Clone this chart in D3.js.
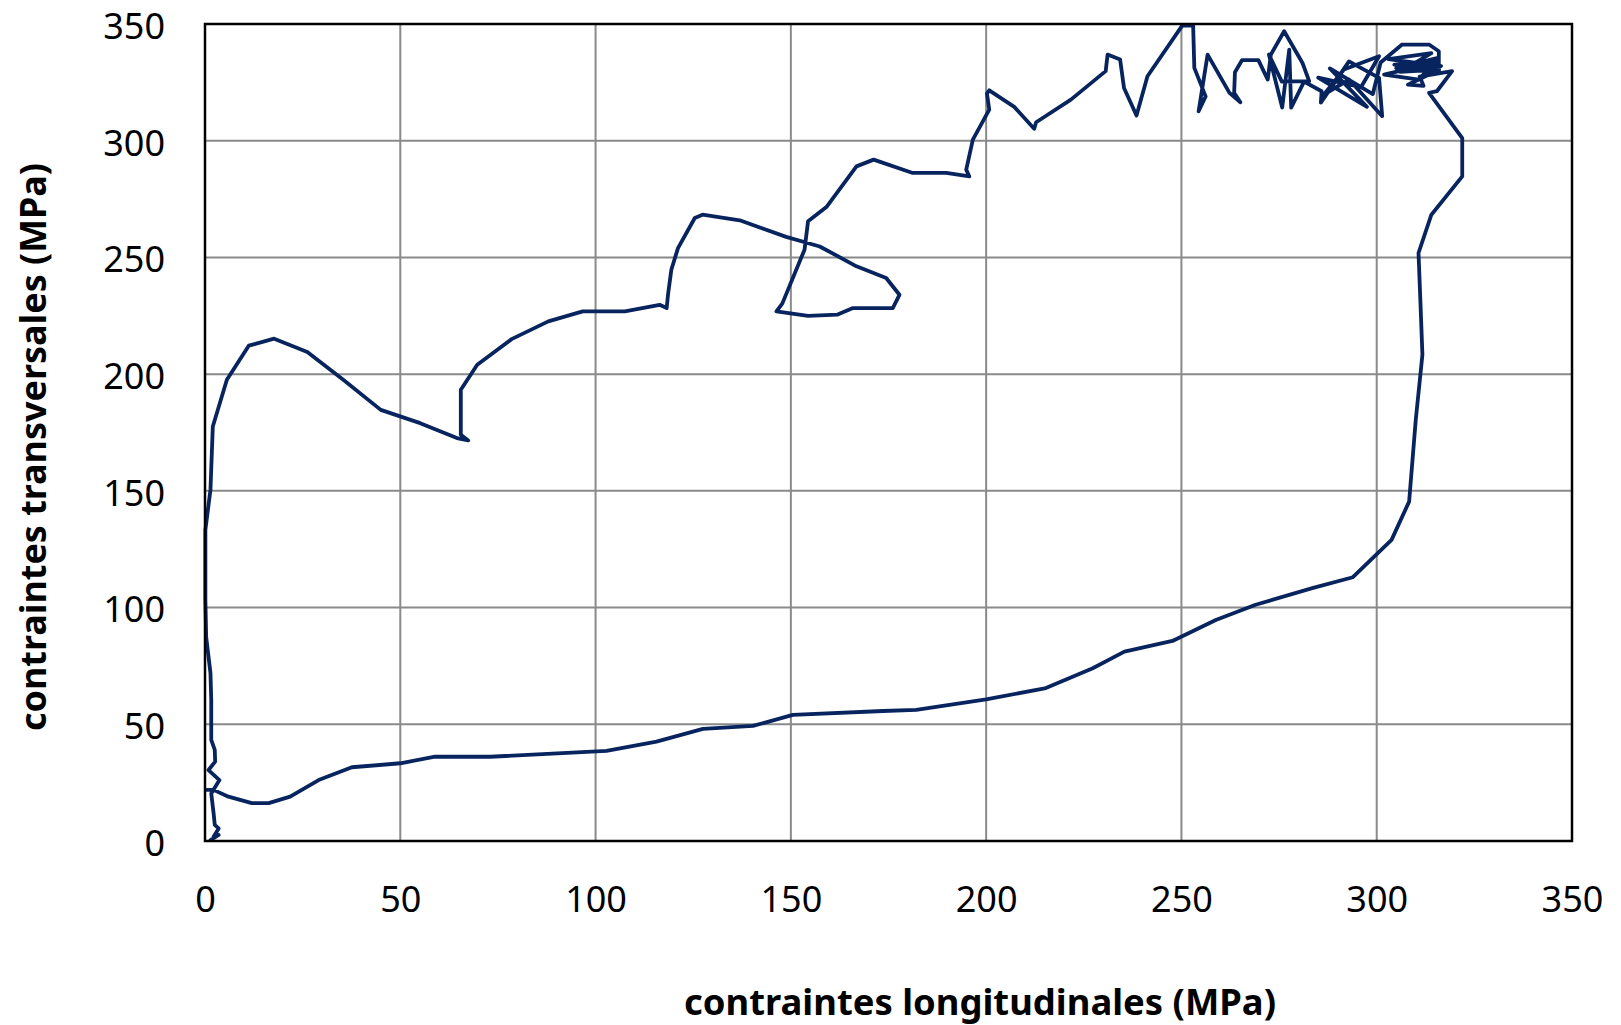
<!DOCTYPE html>
<html>
<head>
<meta charset="utf-8">
<script src="https://cdn.jsdelivr.net/npm/d3@7"></script>
<style>
html,body{margin:0;padding:0;background:#fff;}
svg{display:block;}
</style>
</head>
<body>
<svg id="chart" width="1621" height="1025"></svg>
<script>
// Tick values
const xTicks = [0, 50, 100, 150, 200, 250, 300, 350];
const yTicks = [0, 50, 100, 150, 200, 250, 300, 350];

// contraintes longitudinales (MPa)
const longitudinal = [
  1.4, 3.5, 2.2, 3.5, 2.5, 2.2, 1.6, 3.7, 0.9, 2.6, 2.5, 1.6, 1.6, 1.5, 1.4, 0.3, 0.1, 0.1, 1.4, 2.0,
  5.6, 11.2, 17.7, 26.2, 35.4, 45.0, 55.1, 64.5, 67.4, 65.5, 65.5, 69.7, 78.5, 87.9, 96.7, 107.5, 116.4, 118.2, 118.6, 119.4,
  121.1, 125.4, 127.4, 136.9, 148.8, 157.4, 166.8, 174.4, 177.8, 176.1, 165.9, 162.0, 154.4, 146.3, 147.8, 153.5, 154.4, 159.1, 166.8, 171.2,
  181.2, 189.8, 195.7, 194.9, 196.6, 200.8, 200.2, 200.8, 207.2, 212.3, 212.8, 221.7, 230.6, 231.1, 234.3, 235.3, 238.5, 241.3, 250.2, 253.0,
  253.3, 256.2, 254.4, 256.7, 262.3, 265.1, 263.5, 263.7, 265.5, 269.7, 272.1,
  272.9, 276.3, 281.0, 282.7, 275.7, 272.4, 275.8, 277.6, 278.1, 281.4,
  285.9, 285.7, 292.9, 300.6, 301.4, 292.9, 286.5, 291.6, 300.6, 296.0,
  285.0, 297.5, 288.0, 299.0, 301.0, 306.5, 313.4, 315.9, 315.9, 304.5,
  315.9, 301.9, 310.8, 315.9, 305.0, 316.5, 303.0, 314.0, 306.0, 316.0,
  308.0, 312.0, 311.0, 319.3, 315.4, 313.4,
  321.9, 321.9, 314.0, 310.7, 311.2, 311.7, 310.0, 308.3, 303.8, 293.9, 283.5, 269.0, 258.8, 247.7, 235.4, 227.3, 215.3, 200.0, 182.1, 173.6,
  150.5, 140.3, 127.5, 115.6, 102.8, 73.0, 58.9, 50.0, 37.6, 29.1, 21.8, 16.3, 12.0, 6.0, 2.2, 0.5
];

// contraintes transversales (MPa)
const transversal = [
  0.4, 2.6, 1.8, 5.4, 6.9, 11.9, 20.4, 26.1, 30.4, 34.0, 39.0, 43.3, 60.4, 66.1, 72.0, 87.4, 103.3, 133.3, 150.5, 177.6,
  197.6, 212.2, 215.2, 209.5, 197.6, 184.7, 179.0, 172.6, 171.6, 174.0, 193.3, 204.0, 215.0, 222.6, 226.9, 226.9, 229.7, 228.3, 234.8, 244.7,
  254.0, 266.9, 268.3, 265.9, 258.8, 254.7, 246.2, 241.2, 234.0, 228.3, 228.3, 225.5, 225.0, 226.9, 230.2, 253.3, 265.5, 271.6, 289.0, 291.9,
  286.2, 286.2, 284.7, 287.6, 300.5, 313.3, 320.2, 321.6, 314.5, 305.1, 307.9, 317.6, 329.8, 336.9, 334.8, 322.6, 310.8, 327.6, 349.3, 349.3,
  331.2, 319.0, 312.6, 336.9, 320.5, 316.5, 320.5, 329.3, 334.5, 334.5, 326.2,
  336.9, 346.9, 333.3, 325.5, 325.3, 336.9, 314.2, 339.0, 314.2, 325.3,
  321.2, 316.3, 334.0, 326.9, 310.5, 326.2, 319.8, 330.5, 336.2, 323.0,
  327.0, 314.5, 331.0, 320.0, 333.5, 341.2, 341.2, 338.3, 329.0, 332.6,
  333.9, 328.3, 326.2, 335.6, 331.0, 332.0, 335.0, 337.5, 329.5, 330.5,
  324.0, 323.5, 327.5, 329.8, 321.2, 320.5,
  301.1, 284.7, 268.3, 251.9, 230.5, 208.3, 180.5, 145.4, 129.0, 113.0, 108.3, 101.2, 94.7, 85.7, 81.1, 74.0, 65.5, 60.7, 56.2, 55.7,
  54.0, 49.3, 48.0, 42.6, 38.6, 36.1, 36.1, 33.3, 31.6, 26.1, 19.0, 16.2, 16.2, 19.0, 21.9, 21.9
];

const points = longitudinal.map((v, i) => [v, transversal[i]]);

const svg = d3.select("#chart");
const plotLeft = 205, plotRight = 1572, plotTop = 24, plotBottom = 841;

const x = d3.scaleLinear().domain([0, 350]).range([plotLeft, plotRight]);
const y = d3.scaleLinear().domain([0, 350]).range([plotBottom, plotTop]);

// Grid lines
const grid = svg.append("g");
grid.selectAll("line.v").data(xTicks.slice(1, -1)).enter().append("line")
  .attr("class", "v")
  .attr("x1", d => x(d)).attr("x2", d => x(d))
  .attr("y1", plotTop).attr("y2", plotBottom)
  .attr("stroke", "#8a8a8a").attr("stroke-width", 2);
grid.selectAll("line.h").data(yTicks.slice(1, -1)).enter().append("line")
  .attr("class", "h")
  .attr("x1", plotLeft).attr("x2", plotRight)
  .attr("y1", d => y(d)).attr("y2", d => y(d))
  .attr("stroke", "#8a8a8a").attr("stroke-width", 2);

// Axes (labels only)
const xAxis = d3.axisBottom(x).tickValues(xTicks).tickSize(0).tickPadding(0).tickFormat(d3.format("d"));
const yAxis = d3.axisLeft(y).tickValues(yTicks).tickSize(0).tickPadding(0).tickFormat(d3.format("d"));

const gx = svg.append("g").attr("transform", `translate(0, ${plotBottom})`).call(xAxis);
gx.select(".domain").remove();
gx.selectAll("text")
  .attr("y", 71).attr("dy", null)
  .attr("font-family", "'Noto Sans', sans-serif").attr("font-size", 36).attr("fill", "#000");

const gy = svg.append("g").attr("transform", `translate(${plotLeft}, 0)`).call(yAxis);
gy.select(".domain").remove();
gy.selectAll("text")
  .attr("x", -40).attr("dy", "0.4em")
  .attr("font-family", "'Noto Sans', sans-serif").attr("font-size", 36).attr("fill", "#000");

// Data line
const line = d3.line().x(d => x(d[0])).y(d => y(d[1]));
svg.append("path")
  .datum(points)
  .attr("d", line)
  .attr("fill", "none")
  .attr("stroke", "#08245e")
  .attr("stroke-width", 3.8)
  .attr("stroke-linejoin", "round")
  .attr("stroke-linecap", "round");

// Plot border
svg.append("rect")
  .attr("x", plotLeft).attr("y", plotTop)
  .attr("width", plotRight - plotLeft).attr("height", plotBottom - plotTop)
  .attr("fill", "none").attr("stroke", "#000").attr("stroke-width", 2.5);

// Axis titles
svg.append("text")
  .attr("x", 980).attr("y", 1015)
  .attr("text-anchor", "middle")
  .attr("font-family", "'Noto Sans', sans-serif")
  .attr("font-weight", "bold").attr("font-size", 35)
  .attr("textLength", 592).attr("lengthAdjust", "spacingAndGlyphs")
  .attr("fill", "#000")
  .text("contraintes longitudinales (MPa)");

svg.append("text")
  .attr("transform", "translate(46, 447) rotate(-90)")
  .attr("text-anchor", "middle")
  .attr("font-family", "'Noto Sans', sans-serif")
  .attr("font-weight", "bold").attr("font-size", 35)
  .attr("textLength", 568).attr("lengthAdjust", "spacingAndGlyphs")
  .attr("fill", "#000")
  .text("contraintes transversales (MPa)");
</script>
</body>
</html>
